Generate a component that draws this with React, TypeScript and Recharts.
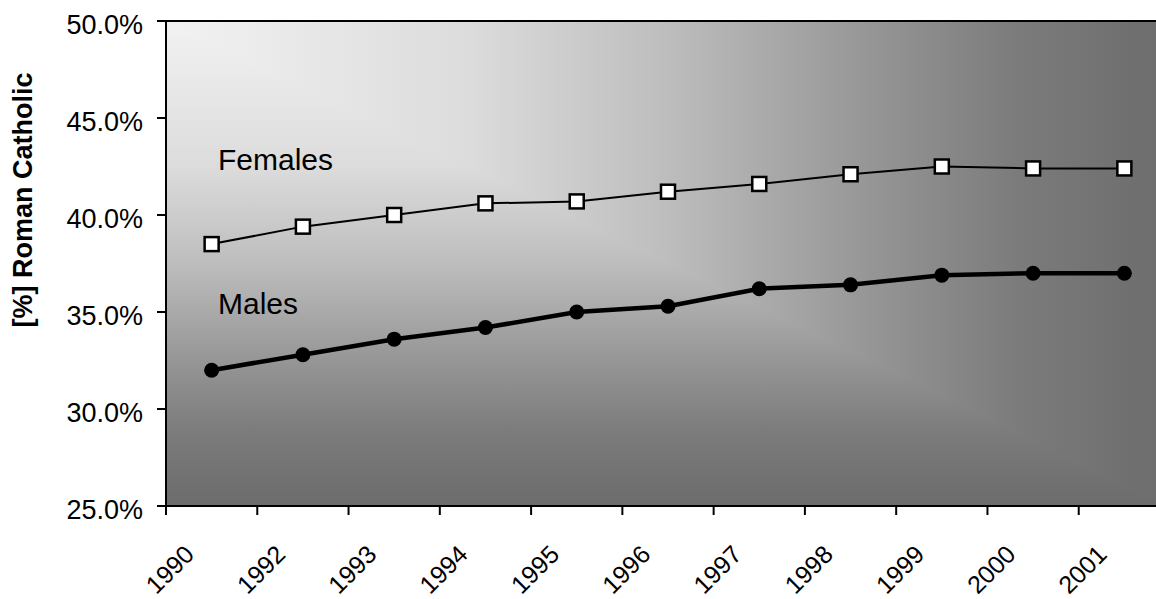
import React from 'react';
import { LineChart, Line, XAxis, YAxis, ReferenceArea } from 'recharts';

const years = ['1990', '1992', '1993', '1994', '1995', '1996', '1997', '1998', '1999', '2000', '2001'];
const females = [38.5, 39.4, 40.0, 40.6, 40.7, 41.2, 41.6, 42.1, 42.5, 42.4, 42.4];
const males = [32.0, 32.8, 33.6, 34.2, 35.0, 35.3, 36.2, 36.4, 36.9, 37.0, 37.0];
const yTicks = [25, 30, 35, 40, 45, 50];
const yTitle = '[%] Roman Catholic';
const seriesLabels = ['Females', 'Males'];

const data = years.map((y, i) => ({ year: y, females: females[i], males: males[i] }));

const FONT = '"Liberation Sans", Arial, Helvetica, sans-serif';

const XTick = (props: any) => {
  const { x, y, payload, index } = props;
  const off = payload && payload.offset ? payload.offset : 45.6;
  const ax = x - 16;
  const ay = y + 50;
  return (
    <g>
      <line x1={x - off} x2={x - off} y1={y} y2={y + 9} stroke="#000" strokeWidth={2} />
      {index === years.length - 1 && (
        <line x1={x + off} x2={x + off} y1={y} y2={y + 9} stroke="#000" strokeWidth={2} />
      )}
      <text
        x={ax}
        y={ay}
        textAnchor="end"
        transform={`rotate(-45, ${ax}, ${ay})`}
        fontSize={25}
        fontFamily={FONT}
        fill="#000"
      >
        {payload.value}
      </text>
    </g>
  );
};

const YTick = (props: any) => {
  const { x, y, payload } = props;
  return (
    <text x={x} y={y + 13} textAnchor="end" fontSize={27} fontFamily={FONT} fill="#000">
      {payload.value.toFixed(1) + '%'}
    </text>
  );
};

const gradStops = [
  { o: 0, c: '#f2f2f2' },
  { o: 0.3, c: '#dcdcdc' },
  { o: 0.5, c: '#bdbdbd' },
  { o: 0.7, c: '#969696' },
  { o: 0.85, c: '#7b7b7b' },
  { o: 1, c: '#6c6c6c' },
];

const Background = (props: any) => {
  const { x, y, width, height } = props;
  const x2 = x + width;
  const y2 = y + height;
  return (
    <g>
      <defs>
        <linearGradient id="gradH" x1="0" y1="0" x2="1" y2="0">
          {gradStops.map((s) => (
            <stop key={s.o} offset={s.o} stopColor={s.c} />
          ))}
        </linearGradient>
        <linearGradient id="gradV" x1="0" y1="0" x2="0" y2="1">
          {gradStops.map((s) => (
            <stop key={s.o} offset={s.o} stopColor={s.c} />
          ))}
        </linearGradient>
      </defs>
      <rect x={x} y={y} width={width} height={height} fill="url(#gradV)" />
      <polygon points={`${x},${y} ${x2},${y} ${x2},${y2}`} fill="url(#gradH)" />
      <rect x={x} y={y} width={width} height={height} fill="none" stroke="#000" strokeWidth={2} />
      <text x={218} y={170} fontSize={30} fontFamily={FONT} fill="#000">{seriesLabels[0]}</text>
      <text x={218} y={314} fontSize={30} fontFamily={FONT} fill="#000">{seriesLabels[1]}</text>
      <text
        x={32}
        y={200}
        transform="rotate(-90, 32, 200)"
        textAnchor="middle"
        fontSize={27}
        fontWeight="bold"
        fontFamily={FONT}
        fill="#000"
      >
        {yTitle}
      </text>
    </g>
  );
};

const SquareDot = (props: any) => {
  const { cx, cy, index } = props;
  if (cx == null || cy == null) return <g key={`sq-${index}`} />;
  return (
    <rect
      key={`sq-${index}`}
      x={cx - 7}
      y={cy - 7}
      width={14}
      height={14}
      fill="#fff"
      stroke="#000"
      strokeWidth={2.5}
    />
  );
};

export default function App() {
  return (
    <div
      style={{
        position: 'fixed',
        left: 0,
        top: 0,
        width: 1156,
        height: 599,
        overflow: 'hidden',
        background: '#fff',
      }}
    >
      <LineChart
        width={1180}
        height={599}
        data={data}
        margin={{ top: 21, right: 10, left: 0, bottom: 0 }}
      >
        <ReferenceArea y1={25} y2={50} shape={<Background />} ifOverflow="visible" />
        <XAxis
          dataKey="year"
          scale="band"
          height={93}
          tickLine={false}
          tickSize={0}
          tickMargin={0}
          axisLine={{ stroke: '#000', strokeWidth: 2 }}
          tick={<XTick />}
          interval={0}
        />
        <YAxis
          type="number"
          domain={[25, 50]}
          ticks={yTicks}
          width={166}
          tickSize={9}
          tickMargin={14}
          tickLine={{ stroke: '#000', strokeWidth: 2 }}
          axisLine={{ stroke: '#000', strokeWidth: 2 }}
          tick={<YTick />}
          interval={0}
        />
        <Line
          type="linear"
          dataKey="females"
          stroke="#000"
          strokeWidth={2}
          dot={<SquareDot />}
          activeDot={false}
          isAnimationActive={false}
        />
        <Line
          type="linear"
          dataKey="males"
          stroke="#000"
          strokeWidth={4.5}
          dot={{ r: 7.5, fill: '#000', stroke: 'none' }}
          activeDot={false}
          isAnimationActive={false}
        />
      </LineChart>
    </div>
  );
}
